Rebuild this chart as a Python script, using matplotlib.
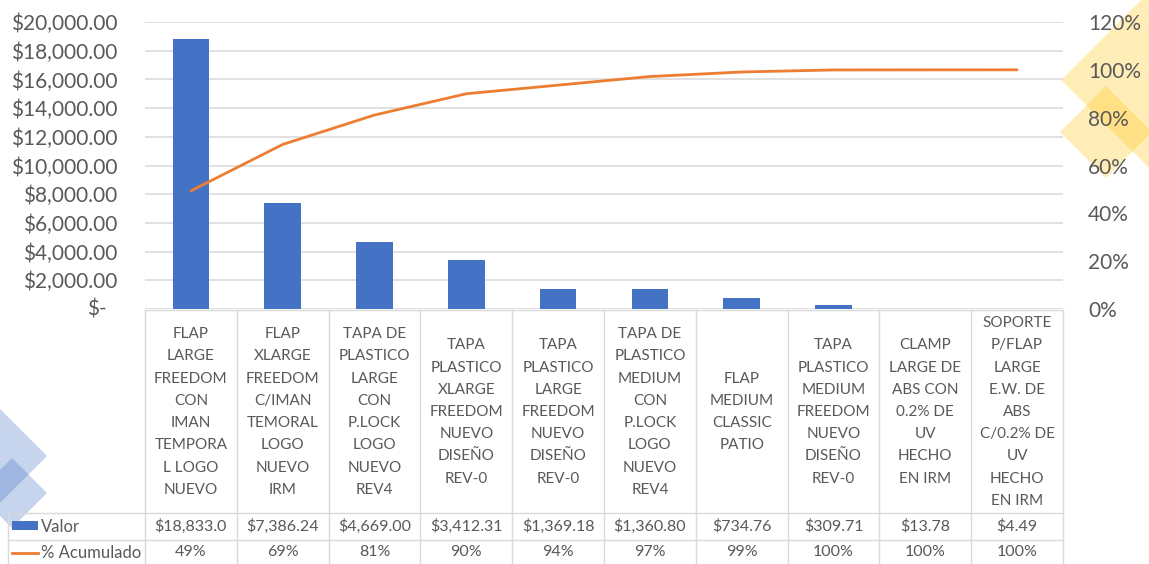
import matplotlib.pyplot as plt
import matplotlib.transforms as mtransforms
from matplotlib.lines import Line2D
from matplotlib.patches import Polygon, Rectangle

categorias = [
    "FLAP\nLARGE\nFREEDOM\nCON\nIMAN\nTEMPORA\nL LOGO\nNUEVO",
    "FLAP\nXLARGE\nFREEDOM\nC/IMAN\nTEMORAL\nLOGO\nNUEVO\nIRM",
    "TAPA DE\nPLASTICO\nLARGE\nCON\nP.LOCK\nLOGO\nNUEVO\nREV4",
    "TAPA\nPLASTICO\nXLARGE\nFREEDOM\nNUEVO\nDISEÑO\nREV-0",
    "TAPA\nPLASTICO\nLARGE\nFREEDOM\nNUEVO\nDISEÑO\nREV-0",
    "TAPA DE\nPLASTICO\nMEDIUM\nCON\nP.LOCK\nLOGO\nNUEVO\nREV4",
    "FLAP\nMEDIUM\nCLASSIC\nPATIO",
    "TAPA\nPLASTICO\nMEDIUM\nFREEDOM\nNUEVO\nDISEÑO\nREV-0",
    "CLAMP\nLARGE DE\nABS CON\n0.2% DE\nUV\nHECHO\nEN IRM",
    "SOPORTE\nP/FLAP\nLARGE\nE.W. DE\nABS\nC/0.2% DE\nUV\nHECHO\nEN IRM",
]
valores = [18833.0, 7386.24, 4669.00, 3412.31, 1369.18, 1360.80, 734.76, 309.71, 13.78, 4.49]
valor_labels = ["$18,833.0", "$7,386.24", "$4,669.00", "$3,412.31", "$1,369.18",
                "$1,360.80", "$734.76", "$309.71", "$13.78", "$4.49"]
acumulado = [0.494, 0.688, 0.811, 0.900, 0.936, 0.972, 0.991, 0.9995, 0.9999, 1.0]
acumulado_labels = ["49%", "69%", "81%", "90%", "94%", "97%", "99%", "100%", "100%", "100%"]
left_ticks = [0, 2000, 4000, 6000, 8000, 10000, 12000, 14000, 16000, 18000, 20000]
right_ticks = [0, 0.2, 0.4, 0.6, 0.8, 1.0, 1.2]

W, H = 1149, 564
BLUE = "#4472C4"
ORANGE = "#ED7D31"
GRID = "#D9D9D9"
TEXT = "#595959"

plt.rcParams["font.family"] = ["Lato", "DejaVu Sans"]


def fx(px):
    return px / W


def fy(py):
    return 1 - py / H


def diamond(cx, cy, r, color, alpha):
    pts = [(fx(cx), fy(cy - r)), (fx(cx + r), fy(cy)),
           (fx(cx), fy(cy + r)), (fx(cx - r), fy(cy))]
    fig.add_artist(Polygon(pts, closed=True, facecolor=color, edgecolor="none",
                           alpha=alpha, zorder=-5))


fig = plt.figure(figsize=(W / 100, H / 100), dpi=100)

# background decoration
diamond(-20, 456, 67, BLUE, 0.3)
diamond(12, 493, 35, BLUE, 0.3)
diamond(1161, 80, 100, "#FFC000", 0.28)
diamond(1106, 132, 46, "#FFC000", 0.28)
diamond(769, -15, 16, "#FFC000", 0.28)

ax = fig.add_axes([fx(145), fy(309), fx(1063) - fx(145), fy(22) - fy(309)])
ax.patch.set_alpha(0)
x = list(range(len(valores)))
ax.bar(x, valores, width=0.4, color=BLUE, zorder=2)
ax.set_xlim(-0.5, len(valores) - 0.5)
ax.set_ylim(0, 20000)
ax.set_yticks(left_ticks)
ax.set_yticklabels([f"${v:,.2f}" if v else "" for v in left_ticks])
ax.grid(axis="y", color=GRID, linewidth=1.1)
ax.set_axisbelow(True)
ax.set_xticks([])
ax.tick_params(axis="y", length=0, pad=20, labelsize=15, labelcolor=TEXT)
for s in ax.spines.values():
    s.set_visible(False)
ax.annotate("$-", (0, 0), xycoords=("axes fraction", "data"),
            xytext=(-38, 0), textcoords="offset pixels",
            ha="right", va="center", fontsize=15, color=TEXT)

ax2 = ax.twinx()
ax2.plot(x, acumulado, color=ORANGE, lw=2, solid_capstyle="round", zorder=3)
ax2.set_ylim(0, 1.2)
ax2.set_yticks(right_ticks)
ax2.set_yticklabels([f"{t:.0%}" for t in right_ticks])
ax2.tick_params(axis="y", length=0, pad=18, labelsize=15, labelcolor=TEXT)
for s in ax2.spines.values():
    s.set_visible(False)

# data table under the chart
blend = mtransforms.blended_transform_factory(ax.transData, fig.transFigure)
for i in range(len(valores) + 1):
    ax.plot([i - 0.5, i - 0.5], [fy(310), fy(566)], transform=blend,
            color=GRID, lw=1, clip_on=False)
fig.add_artist(Line2D([fx(145), fx(1063)], [fy(310), fy(310)], color=GRID, lw=1))
for yy in (513, 540):
    fig.add_artist(Line2D([fx(8), fx(1063)], [fy(yy), fy(yy)], color=GRID, lw=1))
fig.add_artist(Line2D([fx(8), fx(8)], [fy(513), fy(566)], color=GRID, lw=1))

pitch = 22.2
for i, cat in enumerate(categorias):
    lines = cat.split("\n")
    n = len(lines)
    for k, line in enumerate(lines):
        yy = 412 + (k - (n - 1) / 2) * pitch
        ax.text(i, fy(yy), line, transform=blend, ha="center", va="center",
                fontsize=11, color=TEXT, clip_on=False)
    ax.text(i, fy(526.5), valor_labels[i], transform=blend, ha="center",
            va="center", fontsize=11.5, color=TEXT, clip_on=False)
    ax.text(i, fy(552.5), acumulado_labels[i], transform=blend, ha="center",
            va="center", fontsize=11.5, color=TEXT, clip_on=False)

# row headers with legend keys
fig.add_artist(Rectangle((fx(12), fy(530)), fx(38) - fx(12), fy(521) - fy(530),
                         facecolor=BLUE, edgecolor="none"))
fig.add_artist(Line2D([fx(12), fx(38)], [fy(552.5), fy(552.5)], color=ORANGE, lw=2))
fig.text(fx(41), fy(526.5), "Valor", ha="left", va="center", fontsize=12, color=TEXT)
fig.text(fx(41), fy(552.5), "% Acumulado", ha="left", va="center", fontsize=12, color=TEXT)

fig.savefig("out.png", dpi=100)
